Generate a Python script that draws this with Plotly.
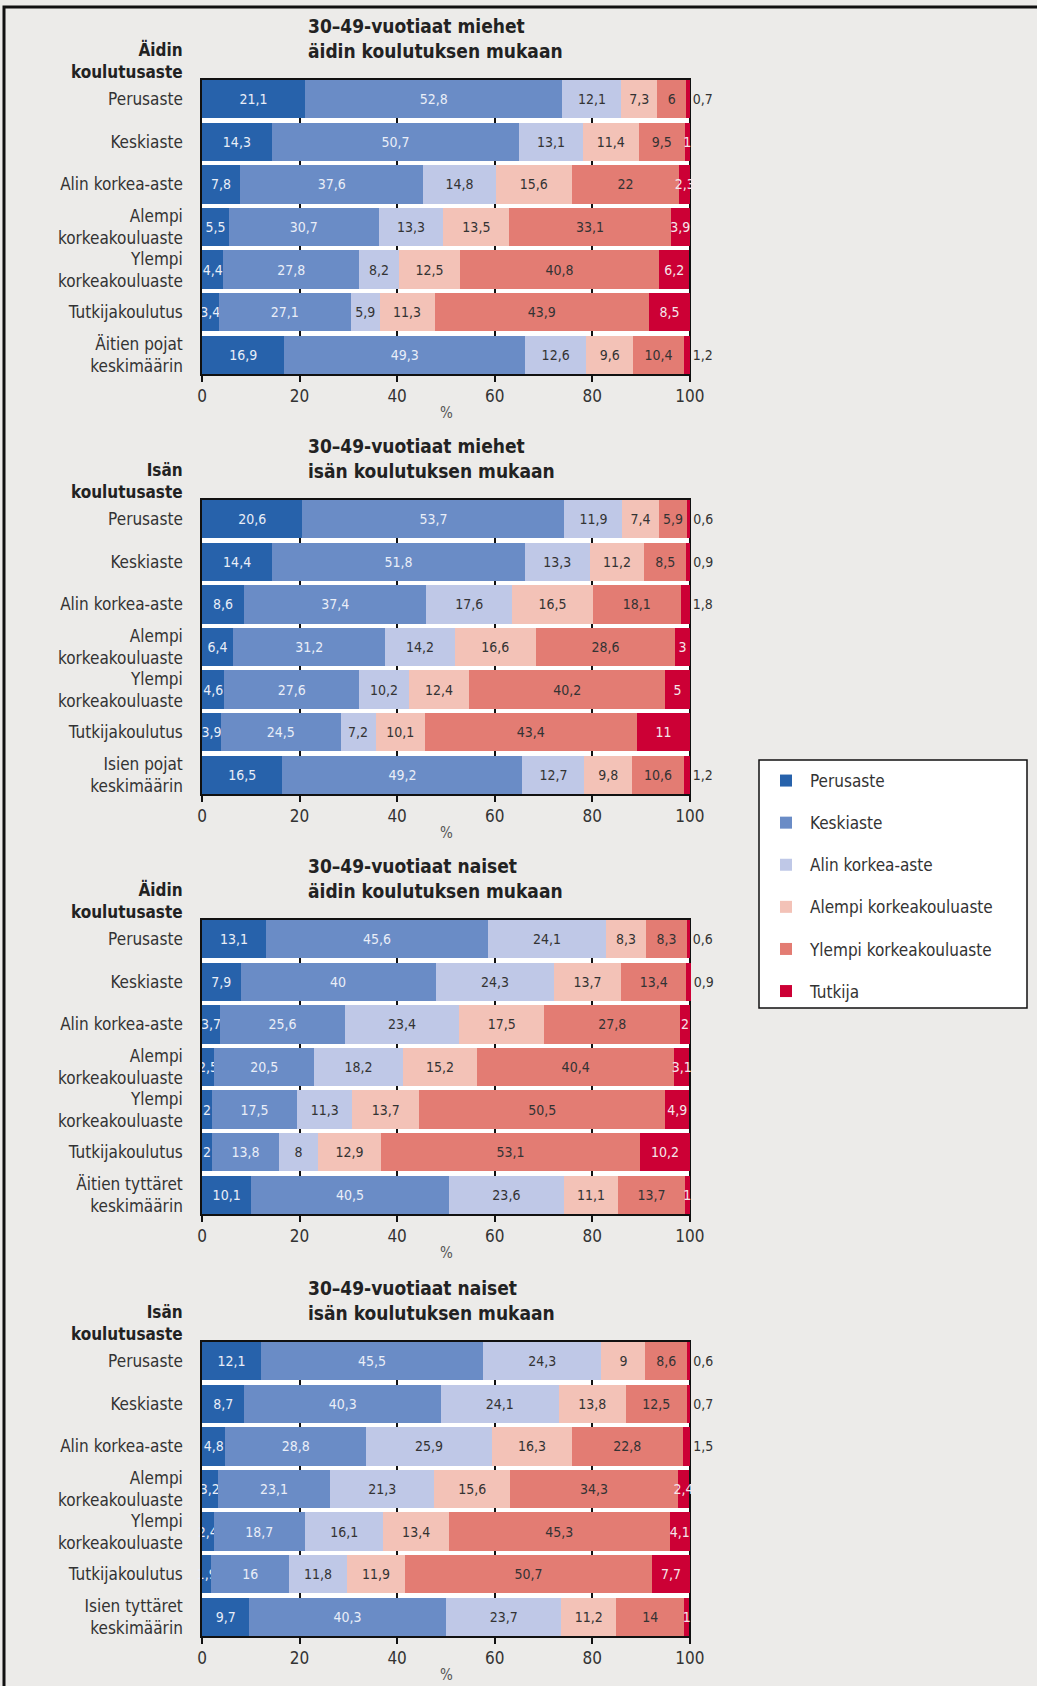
import plotly.graph_objects as go

W, H = 1037, 1686
FONT = "Liberation Sans Narrow, DejaVu Sans Condensed, Roboto Condensed, Arial Narrow, sans-serif"

series_names = ["Perusaste", "Keskiaste", "Alin korkea-aste",
                "Alempi korkeakouluaste", "Ylempi korkeakouluaste", "Tutkija"]
series_colors = ["#2762ab", "#6a8cc6", "#bfc8e7", "#f3c2b7", "#e37c73", "#cc0035"]
inside_text_colors = ["#e9eef8", "#e9eef8", "#333333", "#333333", "#333333", "#f5e6ea"]

tick_values = [0, 20, 40, 60, 80, 100]

# ---- Panel 1: 30-49-vuotiaat miehet äidin koulutuksen mukaan
p1_title = "30–49-vuotiaat miehet<br>äidin koulutuksen mukaan"
p1_heading = "Äidin<br>koulutusaste"
p1_categories = ["Perusaste", "Keskiaste", "Alin korkea-aste", "Alempi<br>korkeakouluaste",
                 "Ylempi<br>korkeakouluaste", "Tutkijakoulutus", "Äitien pojat<br>keskimäärin"]
p1_perusaste = [21.1, 14.3, 7.8, 5.5, 4.4, 3.4, 16.9]
p1_keskiaste = [52.8, 50.7, 37.6, 30.7, 27.8, 27.1, 49.3]
p1_alin = [12.1, 13.1, 14.8, 13.3, 8.2, 5.9, 12.6]
p1_alempi = [7.3, 11.4, 15.6, 13.5, 12.5, 11.3, 9.6]
p1_ylempi = [6, 9.5, 22, 33.1, 40.8, 43.9, 10.4]
p1_tutkija = [0.7, 1, 2.3, 3.9, 6.2, 8.5, 1.2]

# ---- Panel 2: 30-49-vuotiaat miehet isän koulutuksen mukaan
p2_title = "30–49-vuotiaat miehet<br>isän koulutuksen mukaan"
p2_heading = "Isän<br>koulutusaste"
p2_categories = ["Perusaste", "Keskiaste", "Alin korkea-aste", "Alempi<br>korkeakouluaste",
                 "Ylempi<br>korkeakouluaste", "Tutkijakoulutus", "Isien pojat<br>keskimäärin"]
p2_perusaste = [20.6, 14.4, 8.6, 6.4, 4.6, 3.9, 16.5]
p2_keskiaste = [53.7, 51.8, 37.4, 31.2, 27.6, 24.5, 49.2]
p2_alin = [11.9, 13.3, 17.6, 14.2, 10.2, 7.2, 12.7]
p2_alempi = [7.4, 11.2, 16.5, 16.6, 12.4, 10.1, 9.8]
p2_ylempi = [5.9, 8.5, 18.1, 28.6, 40.2, 43.4, 10.6]
p2_tutkija = [0.6, 0.9, 1.8, 3, 5, 11, 1.2]

# ---- Panel 3: 30-49-vuotiaat naiset äidin koulutuksen mukaan
p3_title = "30–49-vuotiaat naiset<br>äidin koulutuksen mukaan"
p3_heading = "Äidin<br>koulutusaste"
p3_categories = ["Perusaste", "Keskiaste", "Alin korkea-aste", "Alempi<br>korkeakouluaste",
                 "Ylempi<br>korkeakouluaste", "Tutkijakoulutus", "Äitien tyttäret<br>keskimäärin"]
p3_perusaste = [13.1, 7.9, 3.7, 2.5, 2, 2, 10.1]
p3_keskiaste = [45.6, 40, 25.6, 20.5, 17.5, 13.8, 40.5]
p3_alin = [24.1, 24.3, 23.4, 18.2, 11.3, 8, 23.6]
p3_alempi = [8.3, 13.7, 17.5, 15.2, 13.7, 12.9, 11.1]
p3_ylempi = [8.3, 13.4, 27.8, 40.4, 50.5, 53.1, 13.7]
p3_tutkija = [0.6, 0.9, 2, 3.1, 4.9, 10.2, 1]

# ---- Panel 4: 30-49-vuotiaat naiset isän koulutuksen mukaan
p4_title = "30–49-vuotiaat naiset<br>isän koulutuksen mukaan"
p4_heading = "Isän<br>koulutusaste"
p4_categories = ["Perusaste", "Keskiaste", "Alin korkea-aste", "Alempi<br>korkeakouluaste",
                 "Ylempi<br>korkeakouluaste", "Tutkijakoulutus", "Isien tyttäret<br>keskimäärin"]
p4_perusaste = [12.1, 8.7, 4.8, 3.2, 2.4, 1.9, 9.7]
p4_keskiaste = [45.5, 40.3, 28.8, 23.1, 18.7, 16, 40.3]
p4_alin = [24.3, 24.1, 25.9, 21.3, 16.1, 11.8, 23.7]
p4_alempi = [9, 13.8, 16.3, 15.6, 13.4, 11.9, 11.2]
p4_ylempi = [8.6, 12.5, 22.8, 34.3, 45.3, 50.7, 14]
p4_tutkija = [0.6, 0.7, 1.5, 2.4, 4.1, 7.7, 1]

panels = [
    (p1_title, p1_heading, p1_categories,
     [p1_perusaste, p1_keskiaste, p1_alin, p1_alempi, p1_ylempi, p1_tutkija]),
    (p2_title, p2_heading, p2_categories,
     [p2_perusaste, p2_keskiaste, p2_alin, p2_alempi, p2_ylempi, p2_tutkija]),
    (p3_title, p3_heading, p3_categories,
     [p3_perusaste, p3_keskiaste, p3_alin, p3_alempi, p3_ylempi, p3_tutkija]),
    (p4_title, p4_heading, p4_categories,
     [p4_perusaste, p4_keskiaste, p4_alin, p4_alempi, p4_ylempi, p4_tutkija]),
]

# layout geometry (pixels)
panel_tops = [80, 500, 920, 1342]
panel_h = 294
x_left, x_right = 202, 691


def fmt(v):
    return f"{v:g}".replace(".", ",")


fig = go.Figure()
layout = dict(
    width=W, height=H,
    margin=dict(l=0, r=0, t=0, b=0, autoexpand=False),
    paper_bgcolor="#ecebe9",
    plot_bgcolor="#ffffff",
    barmode="stack",
    bargap=0.1,
    font=dict(family=FONT, size=17, color="#333333"),
    uniformtext=dict(minsize=14, mode="show"),
    annotations=[],
    shapes=[],
)

for pi, (title, heading, cats, values) in enumerate(panels):
    suffix = "" if pi == 0 else str(pi + 1)
    xa, ya = "x" + suffix, "y" + suffix
    top = panel_tops[pi]
    y1 = 1 - top / H
    y0 = 1 - (top + panel_h) / H
    for si, (name, vals) in enumerate(zip(series_names, values)):
        if si == len(series_names) - 1:
            positions = ["outside" if (v < 2 and v != 1) else "inside" for v in vals]
        else:
            positions = "inside"
        fig.add_trace(go.Bar(
            y=cats, x=vals, orientation="h", name=name,
            marker=dict(color=series_colors[si], line=dict(width=0)),
            text=[fmt(v) for v in vals], textposition=positions,
            textangle=0, insidetextanchor="middle",
            insidetextfont=dict(size=14, color=inside_text_colors[si], family=FONT),
            outsidetextfont=dict(size=14, color="#333333", family=FONT),
            cliponaxis=False, hoverinfo="skip",
            xaxis=xa, yaxis=ya,
            legendgroup=name, showlegend=(pi == 0),
        ))
    layout["xaxis" + suffix] = dict(
        domain=[x_left / W, x_right / W], anchor=ya,
        range=[0, 100.25], tickvals=tick_values,
        ticks="outside", ticklen=6, tickwidth=1.5, tickcolor="#111111",
        showline=True, linecolor="#111111", linewidth=1.5, mirror=True,
        showgrid=True, gridcolor="#111111", gridwidth=1.5,
        zeroline=False, fixedrange=True,
        tickfont=dict(size=17, color="#333333"),
        title=dict(text="%", font=dict(size=15, color="#555555"), standoff=2),
        automargin=False,
    )
    layout["yaxis" + suffix] = dict(
        domain=[y0, y1], anchor=xa,
        categoryorder="array", categoryarray=cats,
        range=[6.45, -0.45],
        showline=True, linecolor="#111111", linewidth=1.5,
        ticks="", showgrid=False, zeroline=False, fixedrange=True,
        tickfont=dict(size=17, color="#333333"),
        ticklabelstandoff=14, automargin=False,
    )
    layout["annotations"].append(dict(
        text="<b>" + title + "</b>", xref="paper", yref="paper",
        x=306 / W, y=y1, xanchor="left", yanchor="bottom", yshift=16,
        align="left", showarrow=False,
        font=dict(size=19, color="#222222", family=FONT),
    ))
    layout["annotations"].append(dict(
        text="<b>" + heading + "</b>", xref="paper", yref="paper",
        x=185 / W, y=y1, xanchor="right", yanchor="bottom", yshift=-4,
        align="right", showarrow=False,
        font=dict(size=17, color="#222222", family=FONT),
    ))

# outer frame of the figure
layout["shapes"].append(dict(
    type="rect", xref="paper", yref="paper",
    x0=4 / W, x1=1.02, y0=-0.02, y1=1 - 7 / H,
    line=dict(color="#111111", width=3), fillcolor="rgba(0,0,0,0)", layer="above",
))
# legend box
layout["shapes"].append(dict(
    type="rect", xref="paper", yref="paper",
    x0=759 / W, x1=1027 / W, y0=1 - 1008 / H, y1=1 - 760 / H,
    line=dict(color="#111111", width=1.5), fillcolor="#ffffff", layer="below",
))

layout["legend"] = dict(
    x=762 / W, y=1 - 763 / H, xanchor="left", yanchor="top",
    bgcolor="rgba(0,0,0,0)", borderwidth=0,
    font=dict(size=17, color="#333333", family=FONT),
    tracegroupgap=17, traceorder="grouped", itemwidth=38,
    itemclick=False, itemdoubleclick=False,
)

fig.update_layout(**layout)
fig.write_html(
    "out.html",
    config={"displayModeBar": False},
    post_script="document.body.style.margin='0';document.body.style.background='#ecebe9';",
)
